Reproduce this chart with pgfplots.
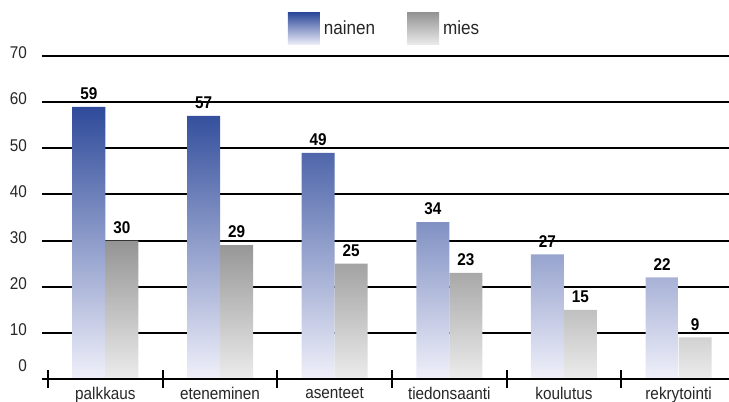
\documentclass[border=0pt]{standalone}
\usepackage{fontspec}
\setmainfont{Liberation Sans}[FakeStretch=0.9]
\usepackage{pgfplots}
\pgfplotsset{compat=1.18}
\definecolor{nblue}{RGB}{46,74,154}
\definecolor{nlight}{RGB}{240,240,250}
\definecolor{mgray}{RGB}{148,148,148}
\definecolor{mlight}{RGB}{236,236,236}
\pgfplotsset{boxlegend/.style={legend image code/.code={\path[##1,draw=none] (0pt,-8pt) rectangle (16pt,8pt);}}}
\begin{document}
\begin{tikzpicture}
\useasboundingbox (-21pt,-11.5pt) rectangle (343.5pt,189.5pt);
\begin{axis}[
  at={(0,0)}, anchor=south west,
  scale only axis, width=343.5pt, height=161.5pt,
  xmin=-0.553, xmax=5.44, ymin=0, ymax=70,
  ybar=0pt, bar width=16.5pt,
  axis line style={draw=none},
  /pgf/number format/assume math mode=true,
  xtick={0,...,5},
  xticklabels={palkkaus,eteneminen,asenteet,tiedonsaanti,koulutus,rekrytointi},
  major tick length=0pt,
  minor xtick={-0.5,0.5,...,4.5}, minor tick length=8.5pt,
  xtick align=center, xtick pos=bottom,
  minor tick style={line width=1pt, black},
  ytick={10,20,...,70}, ytick pos=left,
  ymajorgrids, major grid style={line width=1pt, black},
  extra y ticks={0}, extra y tick style={grid=none, yticklabel style={yshift=5pt}},
  font=\fontsize{8.5}{10}\selectfont,
  tick label style={font=\fontsize{8.5}{10}\selectfont, text=black!85},
  yticklabel style={xshift=-4pt, yshift=1.5pt},
  xticklabel style={yshift=-0.5pt},
  nodes near coords,
  nodes near coords style={font=\fontsize{8.5}{10}\selectfont\bfseries},
  legend columns=2,
  legend style={at={(0.5,1.0836)}, anchor=center, draw=none, fill=none,
    font=\fontsize{9.5}{11}\selectfont, text=black!85,
    /tikz/every even column/.append style={column sep=14pt}},
  legend cell align=left,
]
\addplot[boxlegend, draw=none, top color=nblue, bottom color=nlight]
  coordinates {(0,59) (1,57) (2,49) (3,34) (4,27) (5,22)};
\addplot[boxlegend, draw=none, top color=mgray, bottom color=mlight]
  coordinates {(0,30) (1,29) (2,25) (3,23) (4,15) (5,9)};
\legend{nainen,mies}
\draw[line width=1.3pt] (rel axis cs:0,0) -- (rel axis cs:1,0);
\end{axis}
\end{tikzpicture}
\end{document}
